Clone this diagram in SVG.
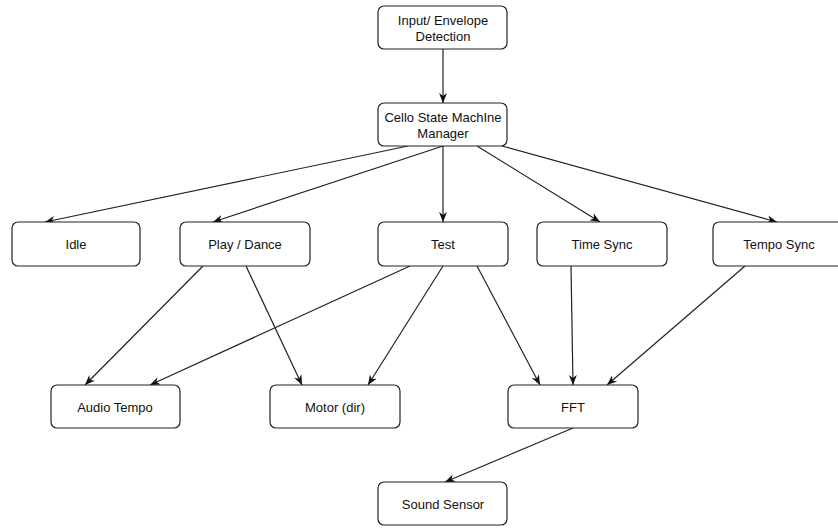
<svg xmlns="http://www.w3.org/2000/svg" width="838" height="528" viewBox="0 0 838 528">
<style>
.box{fill:#fff;stroke:#222;stroke-width:1.2}
.lbl{font-family:"Liberation Sans",Arial,sans-serif;font-size:13px;fill:#111;text-anchor:middle;dominant-baseline:central}
.edge{fill:none;stroke:#222;stroke-width:1.2;marker-end:url(#arr)}
</style>
<defs>
<marker id="arr" viewBox="0 0 10 10" refX="10" refY="5" markerWidth="10" markerHeight="10" markerUnits="userSpaceOnUse" orient="auto">
<path d="M0,1 L10,5 L0,9 L3,5 Z" fill="#111"/>
</marker>
</defs>
<rect width="838" height="528" fill="#fff"/>
<g id="connectors">
<line class="edge" x1="443" y1="49" x2="443" y2="103"/>
<line class="edge" x1="408" y1="146" x2="45" y2="222"/>
<line class="edge" x1="443" y1="146" x2="213" y2="222"/>
<line class="edge" x1="443" y1="146" x2="443" y2="222"/>
<line class="edge" x1="477" y1="146" x2="600" y2="222"/>
<line class="edge" x1="502" y1="146" x2="777" y2="222"/>
<line class="edge" x1="203" y1="266" x2="85" y2="385"/>
<line class="edge" x1="410" y1="266" x2="150" y2="385"/>
<line class="edge" x1="246" y1="266" x2="302" y2="385"/>
<line class="edge" x1="443" y1="266" x2="368" y2="385"/>
<line class="edge" x1="477" y1="266" x2="540" y2="385"/>
<line class="edge" x1="571" y1="266" x2="573" y2="385"/>
<line class="edge" x1="745" y1="266" x2="607" y2="385"/>
<line class="edge" x1="573" y1="428" x2="445" y2="482"/>
</g>
<g id="input"><rect class="box" x="378" y="6" width="129" height="43" rx="6"/><text class="lbl" x="443" y="20">Input/ Envelope</text><text class="lbl" x="443" y="36">Detection</text></g>
<g id="manager"><rect class="box" x="378" y="103" width="129" height="43" rx="6"/><text class="lbl" x="443" y="117">Cello State MachIne</text><text class="lbl" x="443" y="133">Manager</text></g>
<g id="idle"><rect class="box" x="12" y="222" width="128" height="44" rx="6"/><text class="lbl" x="76" y="244">Idle</text></g>
<g id="play"><rect class="box" x="180" y="222" width="130" height="44" rx="6"/><text class="lbl" x="245" y="244">Play / Dance</text></g>
<g id="test"><rect class="box" x="378" y="222" width="130" height="44" rx="6"/><text class="lbl" x="443" y="244">Test</text></g>
<g id="timesync"><rect class="box" x="537" y="222" width="130" height="44" rx="6"/><text class="lbl" x="602" y="244">Time Sync</text></g>
<g id="temposync"><rect class="box" x="713" y="222" width="132" height="44" rx="6"/><text class="lbl" x="779" y="244">Tempo Sync</text></g>
<g id="audiotempo"><rect class="box" x="51" y="385" width="129" height="43" rx="6"/><text class="lbl" x="115" y="407">Audio Tempo</text></g>
<g id="motor"><rect class="box" x="270" y="385" width="130" height="43" rx="6"/><text class="lbl" x="335" y="407">Motor (dir)</text></g>
<g id="fft"><rect class="box" x="508" y="385" width="130" height="43" rx="6"/><text class="lbl" x="573" y="407">FFT</text></g>
<g id="sound"><rect class="box" x="378" y="482" width="129" height="43" rx="6"/><text class="lbl" x="443" y="504">Sound Sensor</text></g>
</svg>
